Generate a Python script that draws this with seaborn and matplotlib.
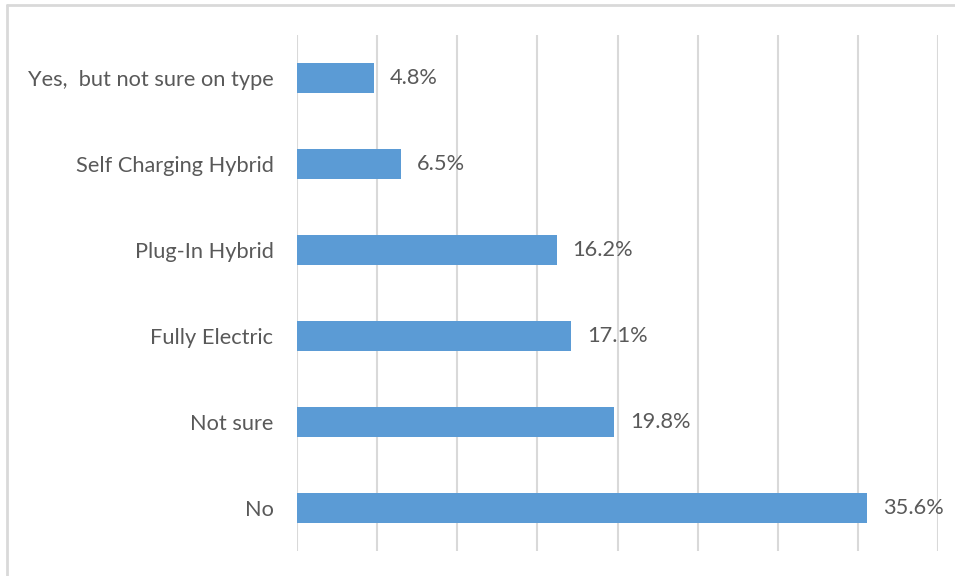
import matplotlib
matplotlib.use("Agg")
import matplotlib.pyplot as plt
from matplotlib.lines import Line2D
import seaborn as sns
import pandas as pd

categories = ["Yes,  but not sure on type", "Self Charging Hybrid", "Plug-In Hybrid",
              "Fully Electric", "Not sure", "No"]
values = [4.8, 6.5, 16.2, 17.1, 19.8, 35.6]
value_labels = ["4.8%", "6.5%", "16.2%", "17.1%", "19.8%", "35.6%"]

df = pd.DataFrame({"answer": categories, "pct": values})

sns.set_theme(style="white")
plt.rcParams["font.family"] = ["Lato", "DejaVu Sans"]

text_color = "#595959"
grid_color = "#D9D9D9"
bar_color = "#5B9BD5"
fs = 15.7

fig = plt.figure(figsize=(9.55, 5.76), dpi=100)
ax = fig.add_axes([297 / 955, 1 - 551 / 576, (938 - 297) / 955, (551 - 35) / 576])

sns.barplot(data=df, x="pct", y="answer", order=categories, color=bar_color,
            width=0.35, saturation=1, ax=ax, edgecolor="none")

ax.set_xlim(0, 40)
ax.set_ylim(5.5, -0.5)
ax.set_xticks(range(0, 41, 5))
ax.set_xticklabels([])
ax.tick_params(axis="x", length=0)
ax.tick_params(axis="y", length=0, pad=17, labelsize=fs, labelcolor=text_color)
ax.xaxis.grid(True, color=grid_color, linewidth=1.5)
ax.set_axisbelow(True)
for s in ax.spines.values():
    s.set_visible(False)
ax.set_xlabel("")
ax.set_ylabel("")

for bar, lab in zip(ax.patches, value_labels):
    ax.annotate(lab, (bar.get_width(), bar.get_y() + bar.get_height() / 2),
                xytext=(16, 0), textcoords="offset pixels",
                va="center", ha="left", fontsize=fs, color=text_color)

# chart frame
fig.add_artist(Line2D([7 / 955, 7 / 955], [0, 1 - 5 / 576], transform=fig.transFigure,
                      color=grid_color, linewidth=2))
fig.add_artist(Line2D([7 / 955, 1], [1 - 5 / 576, 1 - 5 / 576], transform=fig.transFigure,
                      color=grid_color, linewidth=2))

fig.savefig("out.png", dpi=100, facecolor="white")
